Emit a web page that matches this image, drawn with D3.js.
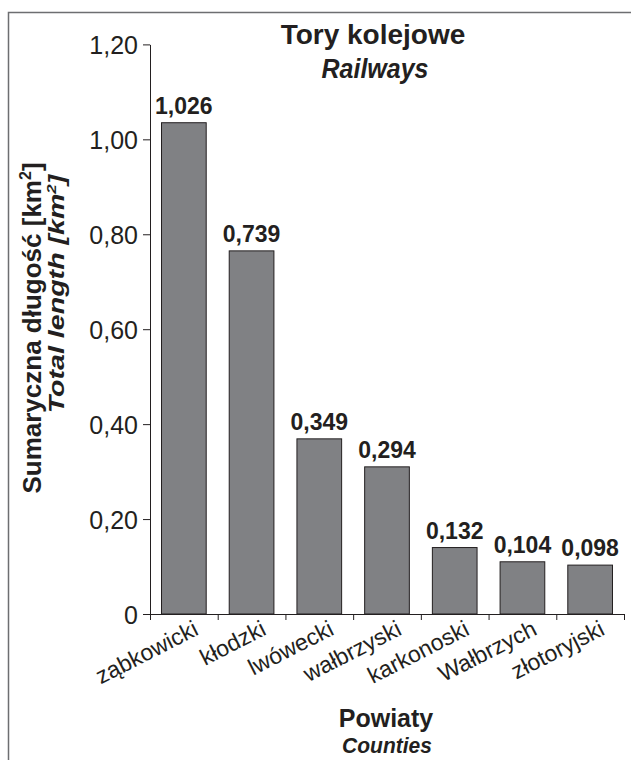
<!DOCTYPE html>
<html>
<head>
<meta charset="utf-8">
<script src="https://cdn.jsdelivr.net/npm/d3@7"></script>
<style>
  body { margin: 0; background: #fff; }
  text { font-family: "Liberation Sans", Arial, sans-serif; fill: #231f20; }
</style>
</head>
<body>
<div id="chart"></div>
<script>
// data
var counties = ["ząbkowicki", "kłodzki", "lwówecki", "wałbrzyski", "karkonoski", "Wałbrzych", "złotoryjski"];
var barValues = [1.035, 0.765, 0.369, 0.31, 0.14, 0.11, 0.103];
var valueLabels = ["1,026", "0,739", "0,349", "0,294", "0,132", "0,104", "0,098"];
var yTicks = [0, 0.2, 0.4, 0.6, 0.8, 1.0, 1.2];

var width = 631, height = 760;

var svg = d3.select("#chart").append("svg")
            .attr("width", width)
            .attr("height", height);

// frame
svg.append("rect")
   .attr("x", 8.5).attr("y", 12.5)
   .attr("width", 640).attr("height", 760)
   .attr("fill", "none")
   .attr("stroke", "#6d6e71")
   .attr("stroke-width", 1.5);

var x = d3.scaleBand()
          .domain(counties)
          .range([150, 624])
          .paddingInner(0.34)
          .paddingOuter(0.17);

var y = d3.scaleLinear()
          .domain([0, 1.2])
          .range([614, 44.4]);

// bars
svg.selectAll("rect.bar")
   .data(counties)
   .enter().append("rect")
   .attr("class", "bar")
   .attr("x", function(d){ return x(d); })
   .attr("width", x.bandwidth())
   .attr("y", function(d, i){ return y(barValues[i]); })
   .attr("height", function(d, i){ return y(0) - y(barValues[i]); })
   .attr("fill", "#808184")
   .attr("stroke", "#231f20")
   .attr("stroke-width", 1);

// value labels
svg.selectAll("text.val")
   .data(counties)
   .enter().append("text")
   .attr("class", "val")
   .attr("x", function(d){ return x(d) + x.bandwidth() / 2; })
   .attr("y", function(d, i){ return y(barValues[i]) - 9; })
   .attr("text-anchor", "middle")
   .style("font-size", "23px")
   .style("font-weight", "bold")
   .text(function(d, i){ return valueLabels[i]; });

// y axis
var yAxis = svg.append("g")
   .attr("transform", "translate(150,0)")
   .call(d3.axisLeft(y)
           .tickValues(yTicks)
           .tickSize(7)
           .tickSizeOuter(0)
           .tickPadding(5)
           .tickFormat(function(d){ return d === 0 ? "0" : d3.format(".2f")(d).replace(".", ","); }));
yAxis.selectAll("text")
     .style("font-size", "25px")
     .attr("fill", "#231f20")
     .attr("dy", "0.36em");
yAxis.selectAll("path, line").attr("stroke", "#231f20");

// x axis: ticks on band boundaries
var xb = d3.scaleLinear().domain([0, counties.length]).range([150, 624]);
var xAxis = svg.append("g")
   .attr("transform", "translate(0,614)")
   .call(d3.axisBottom(xb)
           .tickValues(d3.range(counties.length + 1))
           .tickSize(6)
           .tickSizeOuter(0)
           .tickFormat(""));
xAxis.selectAll("path, line").attr("stroke", "#231f20");

// category labels
svg.selectAll("text.cat")
   .data(counties)
   .enter().append("text")
   .attr("class", "cat")
   .attr("text-anchor", "end")
   .attr("transform", function(d){
      return "translate(" + (x(d) + x.bandwidth() / 2 + 16) + ",634) rotate(-27)";
   })
   .style("font-size", "23px")
   .text(function(d){ return d; });

// title
svg.append("text")
   .attr("x", 373).attr("y", 44)
   .attr("text-anchor", "middle")
   .style("font-size", "28px").style("font-weight", "bold")
   .text("Tory kolejowe");
svg.append("text")
   .attr("transform", "translate(375,78) scale(1,1.12)")
   .attr("text-anchor", "middle")
   .style("font-size", "25px").style("font-weight", "bold").style("font-style", "italic")
   .text("Railways");

// x axis title
svg.append("text")
   .attr("x", 386).attr("y", 727)
   .attr("text-anchor", "middle")
   .style("font-size", "25px").style("font-weight", "bold")
   .text("Powiaty");
svg.append("text")
   .attr("transform", "translate(387,753) scale(1,1.08)")
   .attr("text-anchor", "middle")
   .style("font-size", "21px").style("font-weight", "bold").style("font-style", "italic")
   .text("Counties");

// y axis title
var t1 = svg.append("text")
   .attr("transform", "translate(41,328) rotate(-90)")
   .attr("text-anchor", "middle")
   .style("font-size", "26px").style("font-weight", "bold");
t1.append("tspan").text("Sumaryczna długość [km");
t1.append("tspan").attr("dy", -10).style("font-size", "16px").text("2");
t1.append("tspan").attr("dy", 10).text("]");

// second line is drawn wider along its length, as in the picture
var t2 = svg.append("text")
   .attr("transform", "translate(64,294) rotate(-90) scale(1.3,1)")
   .attr("text-anchor", "middle")
   .style("font-size", "22px").style("font-weight", "bold").style("font-style", "italic");
t2.append("tspan").text("Total length [km");
t2.append("tspan").attr("dy", -8).style("font-size", "13px").text("2");
t2.append("tspan").attr("dy", 8).text("]");
</script>
</body>
</html>
